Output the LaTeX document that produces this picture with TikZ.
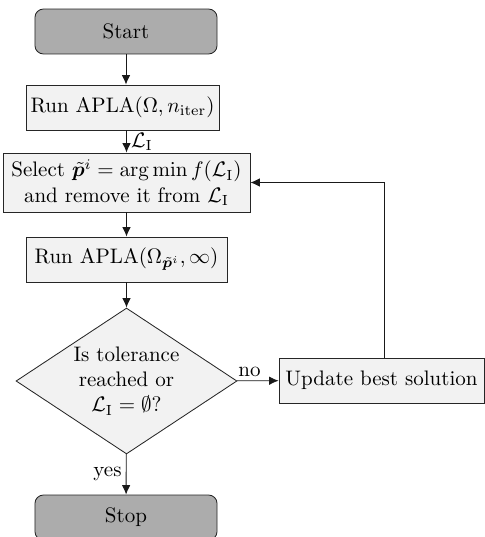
\documentclass[tikz,border=0pt]{standalone}
\usepackage{amsmath,bm}
\usetikzlibrary{shapes.geometric,arrows.meta}
\begin{document}
\begin{tikzpicture}[x=0.47619pt,y=-0.47619pt,
  box/.style={draw=black!85,fill=gray!10,rectangle,inner sep=1pt,align=center,minimum height=21.4pt},
  term/.style={draw=black!85,fill=gray!65,rectangle,rounded corners=4pt,minimum width=86.7pt,minimum height=21.4pt},
  decision/.style={draw=black!85,fill=gray!10,diamond,aspect=1.51,inner sep=0pt,align=center,minimum width=105.2pt,minimum height=69.5pt},
  conn/.style={-{Latex[length=4.5pt,width=4pt]},line width=0.4pt,draw=black!90}]
\useasboundingbox (0,0) rectangle (485,537);
\node[term] (start) at (126,31.5) {Start};
\node[box,minimum width=91.9pt] (run1) at (122.5,107.5) {Run APLA$(\Omega, n_{\mathrm{iter}})$};
\node[box,minimum width=117.6pt,minimum height=28.1pt] (sel) at (126.5,182.5) {Select $\tilde{\bm{p}}^i = \arg\min f(\mathcal{L}_\mathrm{I})$\\ and remove it from $\mathcal{L}_\mathrm{I}$};
\node[box,minimum width=95.7pt] (run2) at (126.5,259.5) {Run APLA$(\Omega_{\tilde{\bm{p}}^i}, \infty)$};
\node[decision] (dec) at (126.5,381) {Is tolerance\\ reached or\\ $\mathcal{L}_\mathrm{I} = \emptyset$?};
\node[box,minimum width=97.6pt] (upd) at (381.5,380.5) {Update best solution};
\node[term] (stop) at (126,517.5) {Stop};
\draw[conn] (start) -- (run1.north -| start);
\draw[conn] (run1.south -| sel) -- node[right,pos=0.5,inner sep=2pt] {$\mathcal{L}_\mathrm{I}$} (sel);
\draw[conn] (sel) -- (run2);
\draw[conn] (run2) -- (dec);
\draw[conn] (dec) -- node[above,pos=0.3,inner sep=1.5pt] {no} (upd);
\draw[conn] (dec) -- node[left,inner sep=2pt] {yes} (stop);
\coordinate (corner) at (384,182.5);
\draw[conn] (upd.north -| corner) -- (corner) -- (sel.east);
\end{tikzpicture}
\end{document}
